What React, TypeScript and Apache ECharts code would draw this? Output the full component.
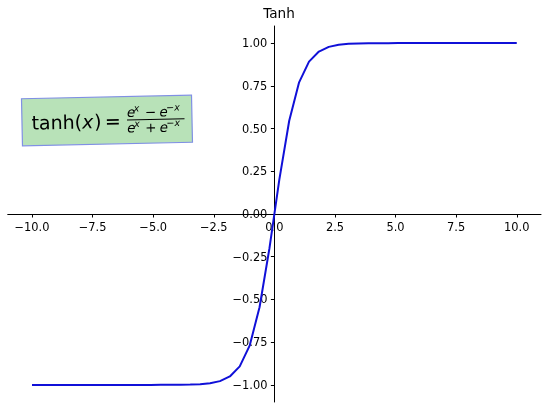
import React, { useEffect, useRef } from "react";
import * as echarts from "echarts";

const xValues = [
  -10, -9.592, -9.184, -8.776, -8.367, -7.959, -7.551, -7.143, -6.735, -6.327,
  -5.918, -5.51, -5.102, -4.694, -4.286, -3.878, -3.469, -3.061, -2.653, -2.245,
  -1.837, -1.429, -1.02, -0.612, -0.204, 0.204, 0.612, 1.02, 1.429, 1.837,
  2.245, 2.653, 3.061, 3.469, 3.878, 4.286, 4.694, 5.102, 5.51, 5.918,
  6.327, 6.735, 7.143, 7.551, 7.959, 8.367, 8.776, 9.184, 9.592, 10,
];
const yValues = [
  -1.0, -1.0, -1.0, -1.0, -1.0, -1.0, -1.0, -1.0, -1.0, -1.0,
  -1.0, -1.0, -0.9999, -0.9998, -0.9996, -0.9991, -0.9981, -0.9956, -0.9901, -0.9779,
  -0.9506, -0.8915, -0.7702, -0.5457, -0.2013, 0.2013, 0.5457, 0.7702, 0.8915, 0.9506,
  0.9779, 0.9901, 0.9956, 0.9981, 0.9991, 0.9996, 0.9998, 0.9999, 1.0, 1.0,
  1.0, 1.0, 1.0, 1.0, 1.0, 1.0, 1.0, 1.0, 1.0, 1.0,
];
const xTicks = [-10, -7.5, -5, -2.5, 0, 2.5, 5, 7.5, 10];
const yTicks = [-1, -0.75, -0.5, -0.25, 0, 0.25, 0.5, 0.75, 1];
const titleText = "Tanh";

const FONT = "DejaVu Sans";
const fmt = (v: number, d: number) => v.toFixed(d).replace("-", "\u2212");

const GRID_LEFT = 7.75;
const GRID_RIGHT = 9;
const GRID_TOP = 26;
const GRID_BOTTOM = 9;
const W = 550;
const H = 411;

export default function App() {
  const ref = useRef<HTMLDivElement>(null);
  useEffect(() => {
    if (!ref.current) return;
    const chart = echarts.init(ref.current, null, { renderer: "svg" });
    const gw = W - GRID_LEFT - GRID_RIGHT;
    const gh = H - GRID_TOP - GRID_BOTTOM;
    const cx = 107;
    const cy = 121;
    const t = (
      text: string,
      x: number,
      y: number,
      size: number,
      italic = false
    ) => ({
      type: "text",
      x: x - cx,
      y: y - cy,
      style: {
        text,
        fontFamily: FONT,
        fontSize: size,
        fontStyle: italic ? "italic" : "normal",
        fill: "#000",
        verticalAlign: "middle",
        align: "left",
      },
    });
    chart.setOption({
      animation: false,
      title: {
        text: titleText,
        left: 274,
        textAlign: "center",
        top: 1,
        textStyle: {
          fontFamily: FONT,
          fontSize: 13.6,
          fontWeight: "normal",
          color: "#000",
        },
      },
      grid: {
        left: GRID_LEFT,
        right: GRID_RIGHT,
        top: GRID_TOP,
        bottom: GRID_BOTTOM,
        containLabel: false,
        outerBoundsMode: "none",
      },
      xAxis: {
        type: "value",
        min: -11,
        max: 11,
        position: "bottom",
        offset: -gh / 2,
        axisLine: { onZero: false, lineStyle: { color: "#000", width: 1 } },
        axisTick: {
          show: true,
          length: 3.5,
          customValues: xTicks,
          lineStyle: { color: "#000", width: 1 },
        },
        axisLabel: {
          customValues: xTicks,
          margin: 7,
          fontFamily: FONT,
          fontSize: 11.4,
          color: "#000",
          formatter: (v: number) => fmt(v, 1),
        },
        splitLine: { show: false },
      },
      yAxis: {
        type: "value",
        min: -1.1,
        max: 1.1,
        position: "left",
        offset: -gw / 2,
        axisLine: { show: true, onZero: false, lineStyle: { color: "#000", width: 1 } },
        axisTick: {
          show: true,
          length: 3.5,
          customValues: yTicks,
          lineStyle: { color: "#000", width: 1 },
        },
        axisLabel: {
          customValues: yTicks,
          margin: 7,
          fontFamily: FONT,
          fontSize: 11.4,
          color: "#000",
          formatter: (v: number) => fmt(v, 2),
        },
        splitLine: { show: false },
      },
      series: [
        {
          type: "line",
          data: xValues.map((x, i) => [x, yValues[i]]),
          showSymbol: false,
          lineStyle: { color: "#1010d8", width: 2 },
          itemStyle: { color: "#1010d8" },
          z: 3,
        },
      ],
      graphic: [
        {
          type: "group",
          x: cx,
          y: cy,
          rotation: 0.021,
          children: [
            {
              type: "rect",
              shape: { x: -85, y: -24, width: 170, height: 47 },
              style: { fill: "#b8e2b8", stroke: "#8090e4", lineWidth: 1.2 },
            },
            t("tanh(", 31.5, 121, 19),
            t("x", 82, 121, 19, true),
            t(")", 94, 121, 19),
            t("=", 104.8, 121, 19),
            // numerator
            t("e", 127, 112.5, 13.5, true),
            t("x", 134, 108.5, 9.5, true),
            t("\u2212", 145, 112.5, 13.5),
            t("e", 159.5, 112.5, 13.5, true),
            t("\u2212x", 166.5, 108.5, 9.5, true),
            {
              type: "line",
              shape: { x1: 127 - cx, y1: 120.5 - cy, x2: 184.5 - cx, y2: 120.5 - cy },
              style: { stroke: "#000", lineWidth: 1 },
            },
            // denominator
            t("e", 127, 128, 13.5, true),
            t("x", 134, 124, 9.5, true),
            t("+", 145, 128, 13.5),
            t("e", 159.5, 128, 13.5, true),
            t("\u2212x", 166.5, 124, 9.5, true),
          ],
        },
      ],
    });
    return () => chart.dispose();
  }, []);
  return (
    <div
      ref={ref}
      style={{ position: "fixed", left: 0, top: 0, width: W, height: H }}
    />
  );
}
